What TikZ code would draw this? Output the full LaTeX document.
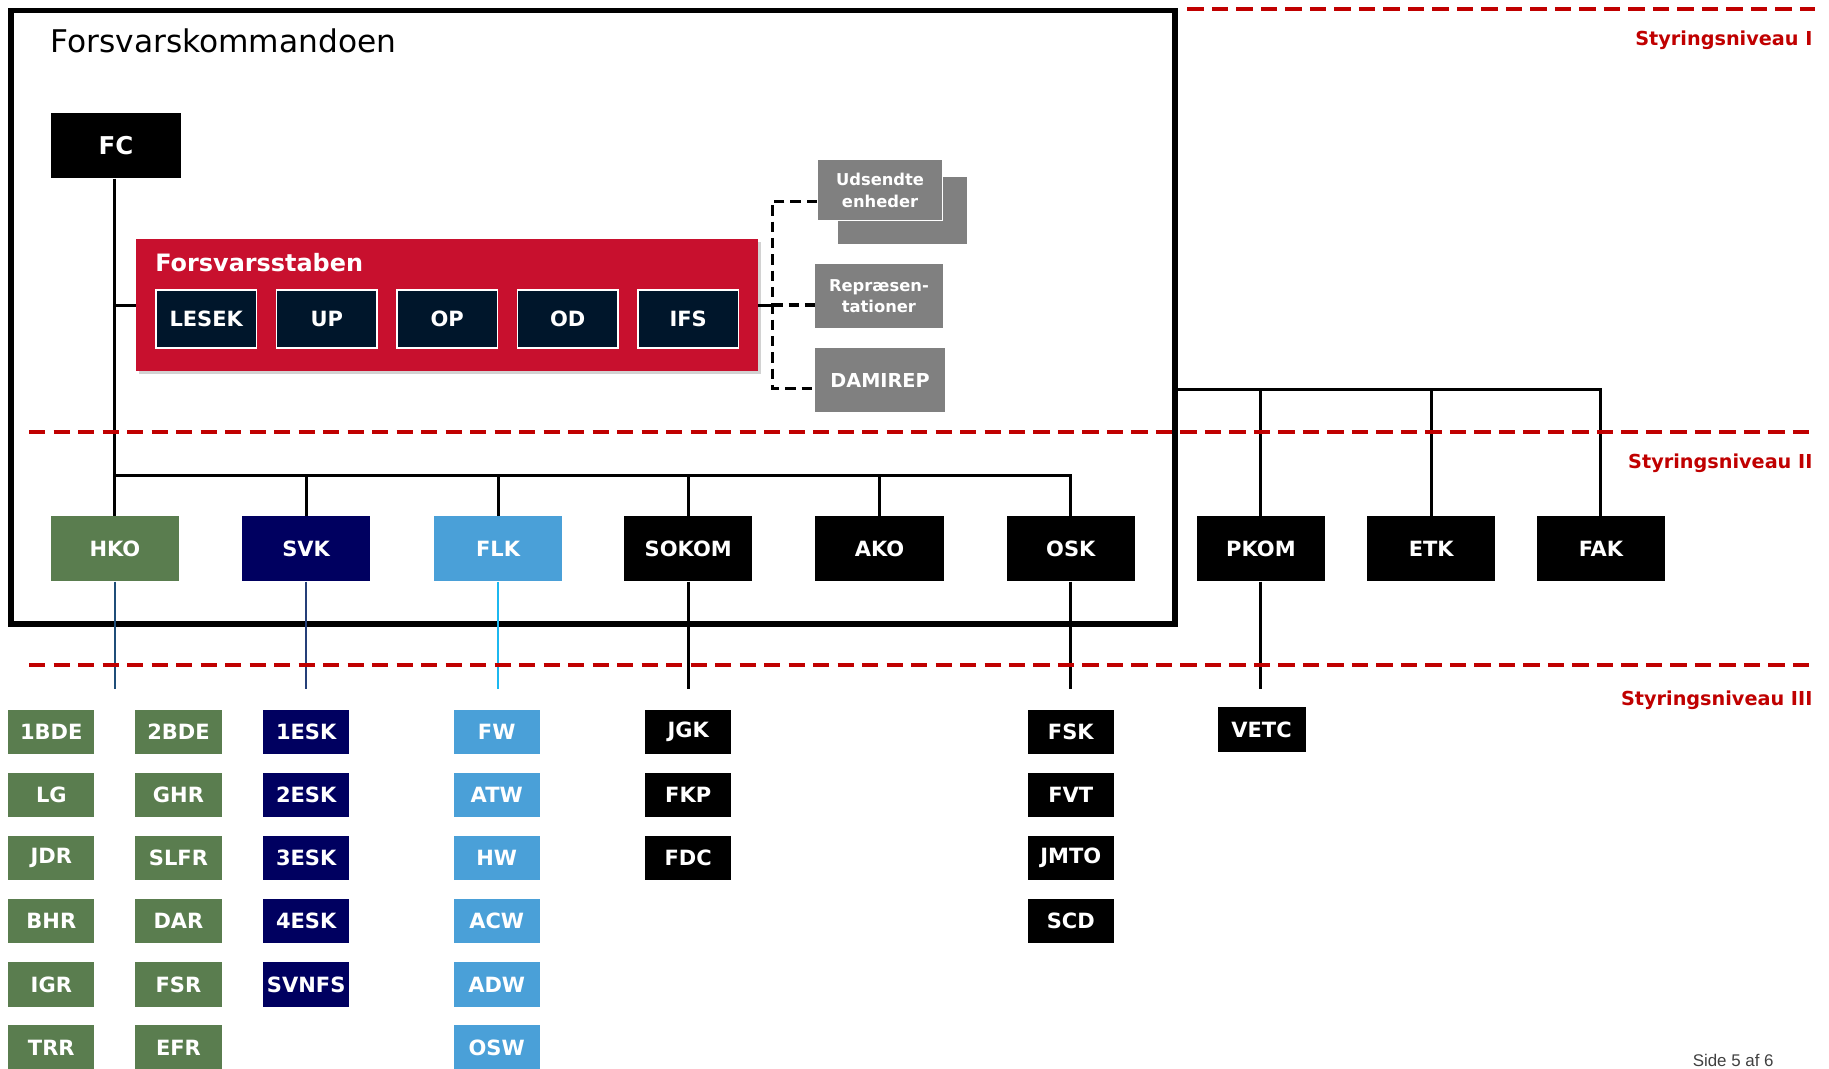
\documentclass[tikz,border=0pt]{standalone}
\usepackage{fontspec}
\setmainfont{DejaVu Sans}
\newfontfamily\pagefont{Liberation Sans}
\usetikzlibrary{positioning,shadows}

\definecolor{fkred}{HTML}{C8102E}
\definecolor{lvlred}{HTML}{C00000}
\definecolor{staffnavy}{HTML}{00162B}
\definecolor{hkogreen}{HTML}{5A7D4F}
\definecolor{svknavy}{HTML}{000060}
\definecolor{flkblue}{HTML}{4AA0D8}
\definecolor{hkoline}{HTML}{1F4E79}
\definecolor{svkline}{HTML}{253F78}
\definecolor{flkline}{HTML}{1CB8F0}
\definecolor{sidegray}{HTML}{808080}

\tikzset{
    unit/.style={rectangle, fill=black, text=white, inner sep=0pt,
        minimum width=110pt, minimum height=56pt,
        font=\fontsize{18}{20}\selectfont\bfseries},
    subunit/.style={unit, minimum width=74pt, minimum height=38pt},
    staffunit/.style={unit, fill=staffnavy, draw=white, line width=1.2pt,
        minimum width=86pt, minimum height=50pt},
    sideunit/.style={unit, fill=sidegray, minimum width=109pt, minimum height=54.5pt,
        align=center, font=\fontsize{14}{18.5}\selectfont\bfseries},
    link/.style={line width=2.6pt},
    sublink/.style={line width=2.2pt},
    dashlink/.style={line width=2.8pt, dash pattern=on 9pt off 5pt},
    levelline/.style={draw=lvlred, line width=3.2pt, dash pattern=on 14pt off 7pt},
    levellabel/.style={anchor=east, text=lvlred, inner sep=0pt,
        font=\fontsize{16.5}{18}\selectfont\bfseries},
}

\begin{document}
\begin{tikzpicture}[x=1pt, y=-1pt]
    \useasboundingbox (0,0) rectangle (1568,916);

    \node[draw, fill=white, line width=4.7pt, minimum width=998pt, minimum height=526pt,
        inner sep=0pt, drop shadow={shadow xshift=2pt, shadow yshift=-2pt, opacity=0.25}]
        (fk) at (508.5,272) {};
    \node[anchor=base west, inner sep=0pt, font=\fontsize{26.8}{30}\selectfont]
        (fktitle) at (43,45) {Forsvarskommandoen};

    \node[unit, minimum width=111pt, font=\fontsize{21}{24}\selectfont\bfseries]
        (fc) at (99.5,125) {FC};

    \node[fill=fkred, minimum width=533pt, minimum height=113pt, inner sep=0pt,
        drop shadow={shadow xshift=2pt, shadow yshift=-2.5pt, opacity=0.35}]
        (fst) at (383.5,261.5) {};
    \node[anchor=base west, text=white, inner sep=0pt, font=\fontsize{20.5}{24}\selectfont\bfseries]
        (fsttitle) at (133,233) {Forsvarsstaben};
    \foreach \name [count=\i from 0] in {LESEK,UP,OP,OD,IFS}
        \node[staffunit] (\name) at ({176.8+103.3*\i},273.5) {\name};

    \node[sideunit, minimum width=110.6pt, minimum height=57pt] (udeback) at (773.3,180.5) {};
    \node[sideunit, draw=white, line width=1pt, minimum width=107pt, minimum height=52pt]
        (ude) at (754.5,163) {Udsendte\\enheder};
    \node[sideunit] (rep) at (753.5,253.8) {Repræsen-\\tationer};
    \node[sideunit, minimum width=111pt, font=\fontsize{16.5}{18}\selectfont\bfseries]
        (dam) at (754.5,325.8) {DAMIREP};

    \coordinate (dbus) at (662,261.5);
    \draw[link] (fst.east) -- (dbus);
    \draw[dashlink] ([yshift=-9.5pt]ude.west) -| (dbus) |- ([yshift=-7pt]dam.west);
    \draw[dashlink] (dbus) -- (dbus -| rep.west);

    \foreach \name/\x/\col in {HKO/98.5/hkogreen, SVK/262.5/svknavy, FLK/427/flkblue,
        SOKOM/590/black, AKO/754/black, OSK/918/black, PKOM/1081/black,
        ETK/1227/black, FAK/1372.5/black}
        \node[unit, fill=\col] (\name) at (\x,470.5) {\name};

    \coordinate (bus) at (98.5,407.5);
    \draw[link] (fc.south -| HKO.north) -- (HKO.north);
    \draw[link] (fst.west -| HKO.north) -- (fst.west);
    \draw[link] (HKO.north |- bus) -| (OSK.north);
    \foreach \u in {SVK,FLK,SOKOM,AKO}
        \draw[link] (\u.north) -- (\u.north |- bus);

    \coordinate (rbus) at (1010,334);
    \draw[link] (fk.east |- rbus) -| (FAK.north);
    \foreach \u in {PKOM,ETK}
        \draw[link] (\u.north) -- (\u.north |- rbus);

    \coordinate (sub) at (0,590.5);
    \draw[sublink, hkoline] (HKO.south) -- (HKO.south |- sub);
    \draw[sublink, svkline] (SVK.south) -- (SVK.south |- sub);
    \draw[sublink, flkline] (FLK.south) -- (FLK.south |- sub);
    \foreach \u in {SOKOM,OSK,PKOM}
        \draw[link] (\u.south) -- (\u.south |- sub);

    \foreach \x/\col/\list in {44/hkogreen/{1BDE,LG,JDR,BHR,IGR,TRR},
        153/hkogreen/{2BDE,GHR,SLFR,DAR,FSR,EFR},
        262.5/svknavy/{1ESK,2ESK,3ESK,4ESK,SVNFS},
        425.8/flkblue/{FW,ATW,HW,ACW,ADW,OSW},
        590/black/{JGK,FKP,FDC},
        918/black/{FSK,FVT,JMTO,SCD}}
        \foreach \name [count=\i from 0] in \list
            \node[subunit, fill=\col] (\name) at (\x,{627.5+54.1*\i}) {\name};
    \node[subunit, minimum width=75.5pt] (VETC) at (1081.5,625.5) {VETC};

    \draw[levelline] (1018,7.5) -- (1556,7.5);
    \draw[levelline] (25,370.5) -- (1556,370.5);
    \draw[levelline] (25,570) -- (1556,570);
    \node[levellabel] (lvlI) at (1554,34.5) {Styringsniveau I};
    \node[levellabel] (lvlII) at (1554,397.5) {Styringsniveau II};
    \node[levellabel] (lvlIII) at (1554,600) {Styringsniveau III};

    \node[anchor=west, inner sep=0pt, text=black!75, font=\pagefont\fontsize{14.5}{16}\selectfont]
        (page) at (1451,909) {Side 5 af 6};
\end{tikzpicture}
\end{document}
